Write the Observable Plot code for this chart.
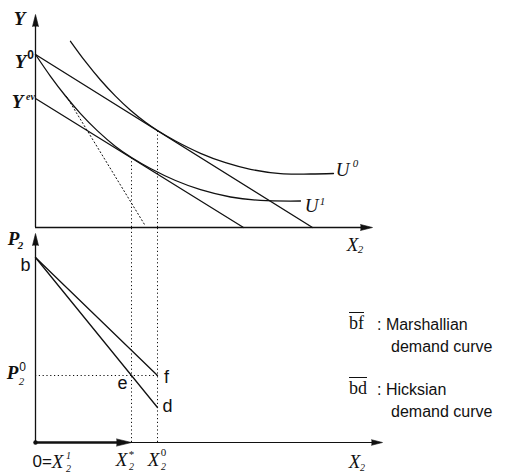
<!DOCTYPE html>
<html>
<head>
<meta charset="utf-8">
<script src="https://cdn.jsdelivr.net/npm/d3@7"></script>
<script src="https://cdn.jsdelivr.net/npm/@observablehq/plot@0.6"></script>
<style>
  html, body { margin: 0; padding: 0; background: #fff; }
  #chart { position: relative; width: 516px; height: 476px; overflow: hidden; }
  #chart svg { position: absolute; left: 0; top: 0; }
  .leg { position: absolute; white-space: nowrap; line-height: 17px; color: #111; }
  .key { font-family: 'Liberation Serif', 'Times New Roman', serif; font-size: 18px; text-decoration: overline; }
  .txt { font-family: 'Liberation Sans', Arial, sans-serif; font-size: 16px; }
</style>
</head>
<body>
<div id="chart"></div>
<script>
// ---------------- data (upper panel: X2 vs Y ; lower panel: X2 vs P2) ----------------
const X2_star = 9.6;          // X2* (compensated quantity)
const X2_zero = 12.2;         // X2^0 (original quantity)
const Y_zero = 17.3;          // Y^0
const Y_ev = 12.9;            // Y^ev

const budgetOriginalX = [0, 27.7];
const budgetOriginalY = [17.3, 0];
const budgetEVX = [0, 20.8];
const budgetEVY = [12.9, 0];

const U0x = [3.5, 5.0, 6.5, 8.0, 9.5, 11.0, 12.2, 14.0, 16.5, 19.0, 21.5, 24.5, 27.5, 29.8];
const U0y = [18.62, 16.58, 14.75, 13.14, 11.72, 10.52, 9.7, 8.65, 7.42, 6.48, 5.82, 5.38, 5.35, 5.4];
const U1x = [0, 1.5, 3.0, 4.5, 6.2, 8.0, 9.6, 11.5, 14.0, 16.5, 19.5, 22.5, 26.5];
const U1y = [17.3, 15.12, 13.15, 11.39, 9.66, 8.11, 7.0, 5.9, 4.7, 3.78, 3.05, 2.71, 2.65];

const rayX = [3.1, 10.9];
const rayY = [13.1, 0.3];

const tangentX = [12.2, 9.6];
const tangentY = [9.68, 6.95];

const upperXEnd = 33.7, upperYEnd = 21.3;

// lower panel
const P2_b = 18.5;
const P2_zero = 6.7;
const P2_f = 6.7;
const P2_d = 3.5;
const marshallX = [0, 12.2];
const marshallP = [18.5, 6.7];
const hicksX = [0, 12.2];
const hicksP = [18.5, 3.5];
const lowerXEnd = 34.7, lowerYEnd = 20.9, lowerGuideTop = 21.5;

const legendKeys = ["bf", "bd"];
const legendNames = ["Marshallian", "Hicksian"];
const legendSuffix = "demand curve";

// ---------------- helpers ----------------
const zip = (xs, ys) => xs.map((x, i) => ({x, y: ys[i]}));
const serif = "'Liberation Serif','Times New Roman',serif";
const sans = "'Liberation Sans',Arial,sans-serif";
const ink = "#111";
const solid = {x: "x", y: "y", stroke: ink, strokeWidth: 1.3};
const dotted = {stroke: ink, strokeWidth: 1, strokeDasharray: "1.2,2.6"};
function T(x, y, text, o = {}) {
  return Plot.text([{x, y}], {x: "x", y: "y", text: () => text, fill: ink,
    fontFamily: serif, fontStyle: "italic", fontSize: 18, ...o});
}
function head(x, y, rotate, length = 12, r = 3) {
  return Plot.vector([{x, y}], {x: "x", y: "y", rotate, length, r, shape: "spike",
    anchor: "end", fill: ink, stroke: ink, strokeWidth: 0.6});
}
const common = {width: 516, height: 476, axis: null,
  style: {background: "transparent", overflow: "visible"}};

// ---------------- upper panel ----------------
const upper = Plot.plot({
  ...common,
  x: {domain: [0, 48.1], range: [35, 516]},
  y: {domain: [0, 22.7], range: [227, 0]},
  marks: [
    Plot.ruleX([0], {y1: 0, y2: upperYEnd - 0.5, stroke: ink, strokeWidth: 1.3}),
    head(0, upperYEnd, 0),
    Plot.ruleY([0], {x1: 0, x2: upperXEnd - 0.5, stroke: ink, strokeWidth: 1.3}),
    head(upperXEnd, 0, 90),
    Plot.line(zip(budgetOriginalX, budgetOriginalY), solid),
    Plot.line(zip(budgetEVX, budgetEVY), solid),
    Plot.line(zip(U0x, U0y), {...solid, curve: "catmull-rom"}),
    Plot.line(zip(U1x, U1y), {...solid, curve: "catmull-rom"}),
    Plot.line(zip(rayX, rayY), {x: "x", y: "y", ...dotted}),
    Plot.ruleX(zip(tangentX, tangentY), {x: "x", y1: 0, y2: "y", ...dotted}),
    // labels
    T(0, upperYEnd, "Y", {dx: -16, dy: 4, fontWeight: "bold", fontSize: 19}),
    T(0, Y_zero, "Y", {dx: -15, dy: 7, fontWeight: "bold", fontSize: 19}),
    T(0, Y_zero, "0", {dx: -5, dy: 1, fontStyle: "normal", fontWeight: "bold", fontSize: 12, fontFamily: sans}),
    T(0, Y_ev, "Y", {dx: -18, dy: 3, fontWeight: "bold", fontSize: 19}),
    T(0, Y_ev, "ev", {dx: -5, dy: -2, fontWeight: "bold", fontSize: 10}),
    T(U0x[U0x.length - 1], U0y[U0y.length - 1], "U", {dx: 9, dy: -4, fontSize: 19}),
    T(U0x[U0x.length - 1], U0y[U0y.length - 1], "0", {dx: 22, dy: -10, fontSize: 11}),
    T(U1x[U1x.length - 1], U1y[U1y.length - 1], "U", {dx: 11, dy: 5, fontSize: 19}),
    T(U1x[U1x.length - 1], U1y[U1y.length - 1], "1", {dx: 22, dy: 0, fontSize: 11}),
    T(upperXEnd, 0, "X", {dx: -20, dy: 17, fontSize: 19}),
    T(upperXEnd, 0, "2", {dx: -12, dy: 22, fontSize: 11})
  ]
});

// ---------------- lower panel ----------------
const lower = Plot.plot({
  ...common,
  x: {domain: [0, 48.1], range: [35, 516]},
  y: {domain: [0, 44.2], range: [442, 0]},
  marks: [
    Plot.ruleX([0], {y1: 0, y2: lowerYEnd - 0.5, stroke: ink, strokeWidth: 1.3}),
    head(0, lowerYEnd, 0),
    Plot.ruleY([0], {x1: 0, x2: lowerXEnd - 0.5, stroke: ink, strokeWidth: 1.2}),
    head(lowerXEnd, 0, 90, 11, 2.8),
    Plot.ruleY([0], {x1: 0, x2: X2_star - 1, stroke: ink, strokeWidth: 2.6}),
    Plot.dot([{x: 0, y: 0}], {x: "x", y: "y", r: 2.2, fill: ink}),
    head(X2_star, 0, 90, 15, 3.6),
    Plot.line(zip(marshallX, marshallP), solid),
    Plot.line(zip(hicksX, hicksP), solid),
    Plot.ruleY([P2_zero], {x1: 0, x2: X2_zero, ...dotted}),
    Plot.ruleX([X2_star, X2_zero], {y1: 0, y2: lowerGuideTop, ...dotted}),
    // labels
    T(0, lowerYEnd, "P", {dx: -22, dy: 5, fontWeight: "bold", fontSize: 19}),
    T(0, lowerYEnd, "2", {dx: -15, dy: 12, fontWeight: "bold", fontSize: 11}),
    T(0, P2_b, "b", {dx: -10, dy: 8, fontFamily: sans, fontStyle: "normal", fontSize: 18}),
    T(0, P2_zero, "P", {dx: -23, dy: -3, fontWeight: "bold", fontSize: 19}),
    T(0, P2_zero, "2", {dx: -14, dy: 6, fontSize: 11}),
    T(0, P2_zero, "0", {dx: -13, dy: -8, fontSize: 12, fontStyle: "normal", fontFamily: sans}),
    T(X2_star, P2_zero, "e", {dx: -9, dy: 8, fontFamily: sans, fontStyle: "normal", fontSize: 18}),
    T(X2_zero, P2_f, "f", {dx: 9, dy: 2, fontFamily: sans, fontStyle: "normal", fontSize: 18}),
    T(X2_zero, P2_d, "d", {dx: 10, dy: -1, fontFamily: sans, fontStyle: "normal", fontSize: 18}),
    T(0, 0, "0=", {dx: -3, dy: 19, textAnchor: "start", fontFamily: sans, fontStyle: "normal", fontSize: 17}),
    T(0, 0, "X", {dx: 22, dy: 19, fontSize: 19}),
    T(0, 0, "1", {dx: 33, dy: 13, fontSize: 10}),
    T(0, 0, "2", {dx: 33, dy: 26, fontSize: 10}),
    T(X2_star, 0, "X", {dx: -10, dy: 17, fontSize: 19}),
    T(X2_star, 0, "*", {dx: 0, dy: 12, fontSize: 11, fontStyle: "normal"}),
    T(X2_star, 0, "2", {dx: 0, dy: 24, fontSize: 10}),
    T(X2_zero, 0, "X", {dx: -4, dy: 17, fontSize: 19}),
    T(X2_zero, 0, "0", {dx: 6, dy: 10, fontSize: 11, fontStyle: "normal"}),
    T(X2_zero, 0, "2", {dx: 6, dy: 24, fontSize: 10}),
    T(lowerXEnd, 0, "X", {dx: -28, dy: 19, fontSize: 19}),
    T(lowerXEnd, 0, "2", {dx: -20, dy: 25, fontSize: 10})
  ]
});

const chart = document.getElementById("chart");
chart.appendChild(upper);
chart.appendChild(lower);

// ---------------- legend (annotation, HTML) ----------------
const legendBaselines = [330, 395];
legendKeys.forEach((k, i) => {
  const b = legendBaselines[i];
  const key = document.createElement("div");
  key.className = "leg key";
  key.style.left = "349px"; key.style.top = (b - 15) + "px";
  key.textContent = k;
  const name = document.createElement("div");
  name.className = "leg txt";
  name.style.left = "377px"; name.style.top = (b - 14) + "px";
  name.textContent = ": " + legendNames[i];
  const suf = document.createElement("div");
  suf.className = "leg txt";
  suf.style.left = "391px"; suf.style.top = (b + 22 - 14) + "px";
  suf.textContent = legendSuffix;
  chart.append(key, name, suf);
});
</script>
</body>
</html>
